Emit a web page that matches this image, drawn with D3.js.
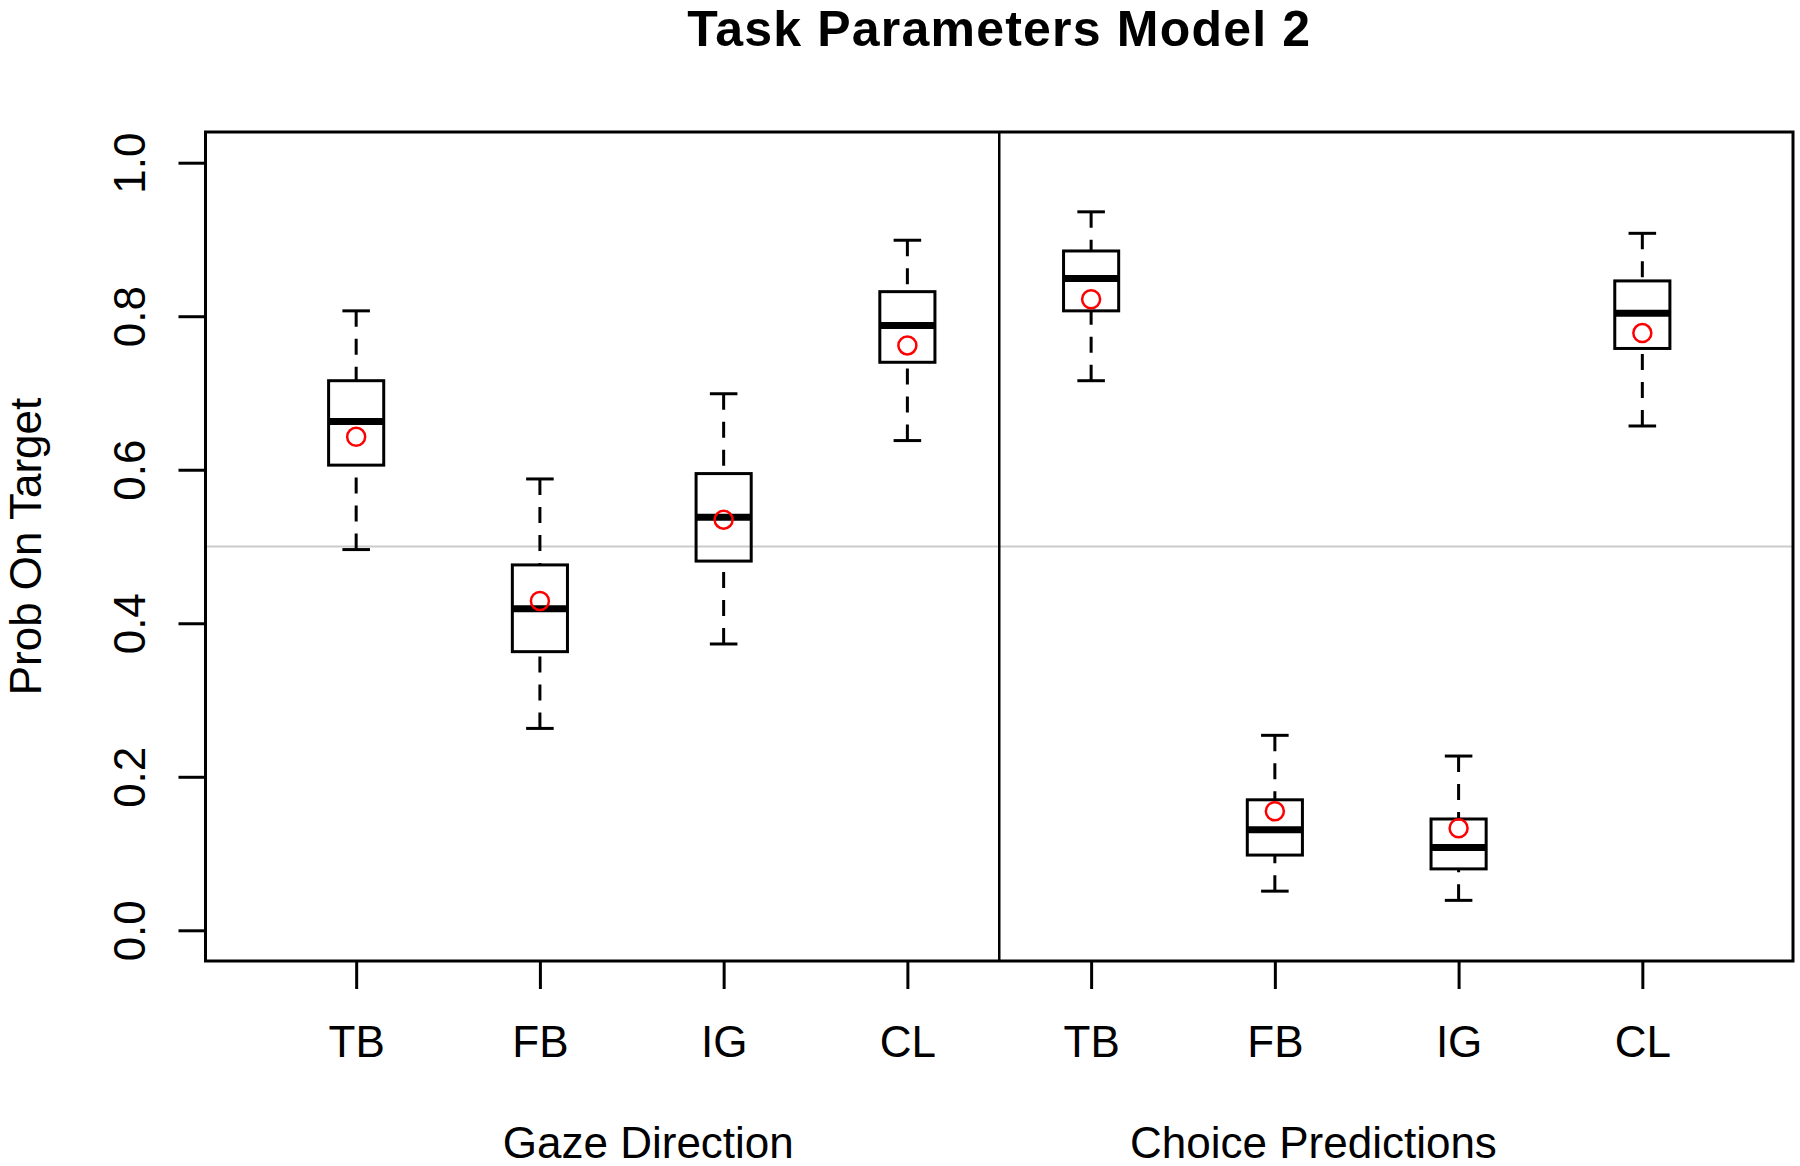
<!DOCTYPE html>
<html>
<head>
<meta charset="utf-8">
<script src="https://cdn.jsdelivr.net/npm/d3@7"></script>
<style>
  body { margin: 0; background: #fff; }
  svg text { font-family: "Liberation Sans", Arial, Helvetica, sans-serif; fill: #000; }
</style>
</head>
<body>
<div id="chart"></div>
<script>
// values
const conditions = ["TB", "FB", "IG", "CL", "TB", "FB", "IG", "CL"];
const groups = ["Gaze Direction", "Choice Predictions"];
const whiskerLow  = [0.496, 0.263, 0.373, 0.638, 0.716, 0.051, 0.039, 0.657];
const lowerQuart  = [0.606, 0.363, 0.481, 0.740, 0.807, 0.098, 0.080, 0.758];
const medians     = [0.663, 0.419, 0.538, 0.788, 0.849, 0.131, 0.108, 0.804];
const upperQuart  = [0.716, 0.476, 0.595, 0.832, 0.885, 0.170, 0.145, 0.846];
const whiskerHigh = [0.807, 0.588, 0.699, 0.899, 0.936, 0.254, 0.227, 0.908];
const means       = [0.643, 0.429, 0.535, 0.762, 0.822, 0.155, 0.133, 0.778];
const yTicks = [0, 0.2, 0.4, 0.6, 0.8, 1.0];

const width = 1800;
const height = 1166;
const margin = {top: 132, right: 7, bottom: 205, left: 205.5};

const svg = d3.select("#chart")
    .append("svg")
    .attr("width", width)
    .attr("height", height);

// R style extended ranges (4% padding)
const x = d3.scaleLinear()
    .domain([0.18, 8.82])
    .range([margin.left, width - margin.right]);
const y = d3.scaleLinear()
    .domain([-0.04, 1.04])
    .range([height - margin.bottom, margin.top]);

const boxes = conditions.map((c, i) => ({
  pos: i + 1,
  label: c,
  lo: whiskerLow[i], q1: lowerQuart[i], med: medians[i],
  q3: upperQuart[i], hi: whiskerHigh[i], mean: means[i]
}));

// reference line at 0.5
svg.append("line")
    .attr("x1", x.range()[0]).attr("x2", x.range()[1])
    .attr("y1", y(0.5)).attr("y2", y(0.5))
    .attr("stroke", "#cbcbcb")
    .attr("stroke-width", 2);

// y axis
const yAxis = svg.append("g")
    .attr("transform", `translate(${margin.left},0)`)
    .call(d3.axisLeft(y).tickValues(yTicks).tickFormat(d3.format(".1f")).tickSize(27));
yAxis.select(".domain").remove();
yAxis.selectAll(".tick line").attr("stroke", "#000").attr("stroke-width", 3);
yAxis.selectAll(".tick text")
    .attr("x", null).attr("dy", null)
    .attr("text-anchor", "middle")
    .attr("transform", "translate(-61,0) rotate(-90)")
    .style("font-size", "44px");

// x axis
const xAxis = svg.append("g")
    .attr("transform", `translate(0,${y.range()[0]})`)
    .call(d3.axisBottom(x).tickValues(boxes.map(d => d.pos))
      .tickFormat((d, i) => conditions[i]).tickSize(28));
xAxis.select(".domain").remove();
xAxis.selectAll(".tick line").attr("stroke", "#000").attr("stroke-width", 3);
xAxis.selectAll(".tick text")
    .attr("y", 96).attr("dy", null)
    .style("font-size", "44px");

const boxW = 0.3;
const bx = svg.append("g").selectAll("g")
    .data(boxes)
    .enter().append("g");

// whiskers, dashed, drawn from cap towards box
bx.append("line")
    .attr("x1", d => x(d.pos)).attr("x2", d => x(d.pos))
    .attr("y1", d => y(d.lo)).attr("y2", d => y(d.q1))
    .attr("stroke", "#000").attr("stroke-width", 3)
    .attr("stroke-dasharray", "16,12");
bx.append("line")
    .attr("x1", d => x(d.pos)).attr("x2", d => x(d.pos))
    .attr("y1", d => y(d.hi)).attr("y2", d => y(d.q3))
    .attr("stroke", "#000").attr("stroke-width", 3)
    .attr("stroke-dasharray", "16,12");

// staples
["lo", "hi"].forEach(k => {
  bx.append("line")
      .attr("x1", d => x(d.pos - boxW / 4)).attr("x2", d => x(d.pos + boxW / 4))
      .attr("y1", d => y(d[k])).attr("y2", d => y(d[k]))
      .attr("stroke", "#000").attr("stroke-width", 3);
});

// boxes
bx.append("rect")
    .attr("x", d => x(d.pos - boxW / 2))
    .attr("width", x(boxW) - x(0))
    .attr("y", d => y(d.q3))
    .attr("height", d => y(d.q1) - y(d.q3))
    .attr("fill", "none")
    .attr("stroke", "#000").attr("stroke-width", 3);

// medians
bx.append("line")
    .attr("x1", d => x(d.pos - boxW / 2)).attr("x2", d => x(d.pos + boxW / 2))
    .attr("y1", d => y(d.med)).attr("y2", d => y(d.med))
    .attr("stroke", "#000").attr("stroke-width", 7);

// means
bx.append("circle")
    .attr("cx", d => x(d.pos))
    .attr("cy", d => y(d.mean))
    .attr("r", 9)
    .attr("fill", "none")
    .attr("stroke", "#ff0000").attr("stroke-width", 2.5);

// divider between the two panels
svg.append("line")
    .attr("x1", x(4.5)).attr("x2", x(4.5))
    .attr("y1", y.range()[1]).attr("y2", y.range()[0])
    .attr("stroke", "#000").attr("stroke-width", 2.5);

// frame
svg.append("rect")
    .attr("x", x.range()[0]).attr("y", y.range()[1])
    .attr("width", x.range()[1] - x.range()[0])
    .attr("height", y.range()[0] - y.range()[1])
    .attr("fill", "none")
    .attr("stroke", "#000").attr("stroke-width", 3);

// group labels under the axis
const groupAt = [2.59, 6.21];
svg.selectAll(".group")
    .data(groups)
    .enter().append("text")
    .attr("class", "group")
    .attr("x", (d, i) => x(groupAt[i]))
    .attr("y", 1158)
    .attr("text-anchor", "middle")
    .style("font-size", "44px")
    .text(d => d);

// y title
svg.append("text")
    .attr("transform", `translate(41,${y(0.5)}) rotate(-90)`)
    .attr("text-anchor", "middle")
    .style("font-size", "44px")
    .text("Prob On Target");

// title
svg.append("text")
    .attr("x", (x.range()[0] + x.range()[1]) / 2)
    .attr("y", 46)
    .attr("text-anchor", "middle")
    .style("font-size", "50px")
    .style("font-weight", "bold")
    .style("letter-spacing", "1.2px")
    .text("Task Parameters Model 2");
</script>
</body>
</html>
